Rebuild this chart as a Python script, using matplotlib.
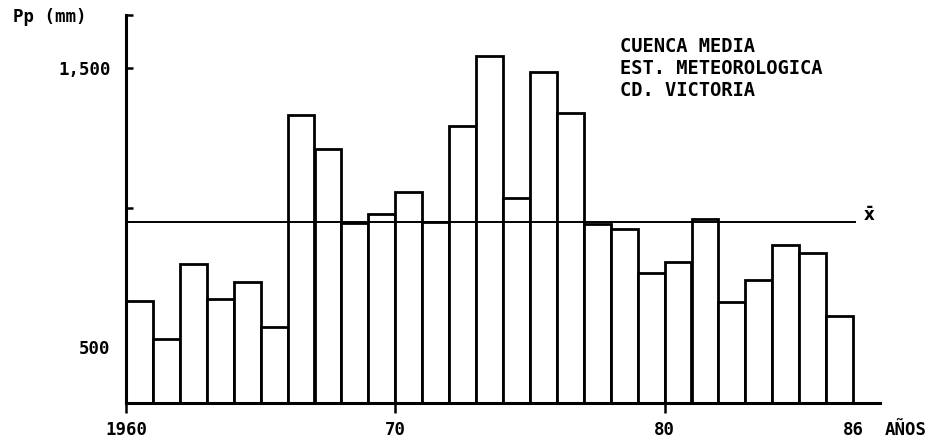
import numpy as np
import matplotlib
matplotlib.use("Agg")
import matplotlib.pyplot as plt

# Annual precipitation, Cd. Victoria
years = list(range(1960, 1987))
precip = [666, 531, 797, 674, 732, 574, 1331, 1210, 944, 977,
          1057, 949, 1293, 1544, 1033, 1485, 1339, 941, 925, 765,
          804, 959, 662, 741, 866, 837, 610]
mean_pp = 950

xtick_pos = [1960, 1970, 1980, 1987]
xtick_labels = ["1960", "70", "80", "86"]
ytick_pos = [500, 1000, 1500, 1690]
ytick_labels = ["500", "", "1,500", ""]
station_text = "CUENCA MEDIA\nEST. METEOROLOGICA\nCD. VICTORIA"

plt.rcParams['font.family'] = ['DejaVu Sans Mono', 'DejaVu Sans']
plt.rcParams['font.weight'] = 'bold'
plt.rcParams['mathtext.default'] = 'bf'

fig = plt.figure(figsize=(9.36, 4.44), dpi=100)
ax = fig.add_axes([126 / 936, 41 / 444, (880 - 126) / 936, (403 - 15) / 444])

ax.bar(years, precip, width=1.0, align='edge', facecolor='white',
       edgecolor='black', linewidth=2.0, zorder=2)

# mean line + x-bar label
ax.hlines(mean_pp, 1960, 1987.1, color='black', linewidth=1.4, zorder=3)
ax.text(1987.6, mean_pp + 22, r'$\bar{x}$', fontsize=12,
        ha='center', va='center')

ax.set_xlim(1960, 1988)
ax.set_ylim(300, 1690)

for s in ['top', 'right']:
    ax.spines[s].set_visible(False)
ax.spines['left'].set_linewidth(2.2)
ax.spines['bottom'].set_linewidth(2.2)

ax.set_xticks(xtick_pos)
ax.set_xticklabels(xtick_labels, fontsize=12.5)
ax.tick_params(axis='x', direction='out', length=7, width=1.8, pad=6)
ax.xaxis.get_major_ticks()[3].tick1line.set_visible(False)

ax.set_yticks(ytick_pos)
ax.set_yticklabels(ytick_labels, fontsize=12.5)
ax.tick_params(axis='y', direction='in', length=5, width=1.8, pad=11)

fig.text(13 / 936, 1 - 17 / 444, "Pp (mm)", fontsize=12.5, va='center', ha='left')
fig.text(885 / 936, 1 - 430 / 444, "AÑOS", fontsize=12.5, va='center', ha='left')
fig.text(620 / 936, 1 - 37 / 444, station_text, fontsize=13.5, va='top',
         ha='left', linespacing=1.2)

fig.savefig("out.png", dpi=100)
